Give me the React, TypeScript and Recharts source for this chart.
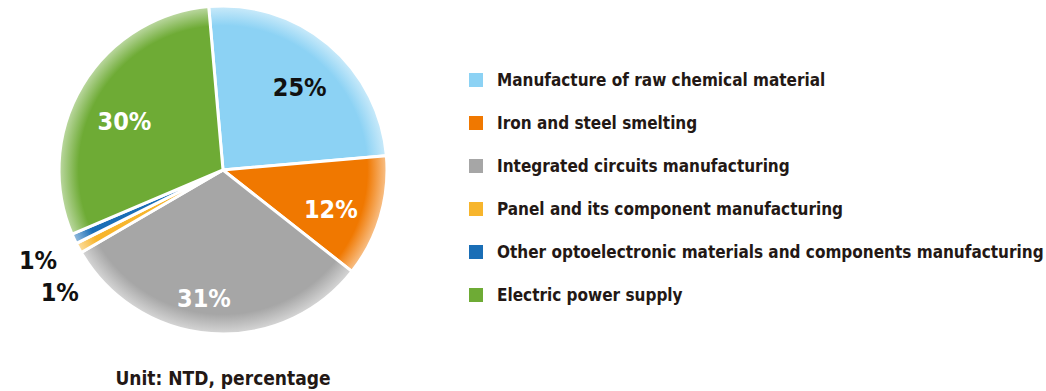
import React from 'react'
import { PieChart, Pie, Cell } from 'recharts'

const categories = [
  'Manufacture of raw chemical material',
  'Iron and steel smelting',
  'Integrated circuits manufacturing',
  'Panel and its component manufacturing',
  'Other optoelectronic materials and components manufacturing',
  'Electric power supply',
]
const shares = [25, 12, 31, 1, 1, 30]
const shareLabels = ['25%', '12%', '31%', '1%', '1%', '30%']

const COLORS = ['#8cd2f4', '#f07800', '#a6a6a6', '#f7b52c', '#1a6eb6', '#6eab35']
const LABEL_FILL = ['#111', '#fff', '#fff', '#111', '#111', '#fff']
// hand tweaks so labels sit where the original put them
const LABEL_NUDGE: [number, number][] = [[5, 3], [1, 8], [-10, -1], [18, 25], [2, 4], [-3, 9]]

const data = categories.map((name, i) => ({ name, value: shares[i] }))

const FONT = '"DejaVu Sans", sans-serif'
const RAD = Math.PI / 180
const CX = 223
const CY = 170
const R = 164

function renderLabel(props: any) {
  const { cx, cy, midAngle, outerRadius, index } = props
  const small = shares[index] < 5
  const r = small ? outerRadius + 42 : outerRadius * (index === 2 ? 0.79 : 0.68)
  const x = cx + r * Math.cos(-midAngle * RAD) + LABEL_NUDGE[index][0]
  const y = cy + r * Math.sin(-midAngle * RAD) + LABEL_NUDGE[index][1]
  return (
    <text x={x} y={y} fill={LABEL_FILL[index]} textAnchor='middle' dominantBaseline='central'
      style={{ fontFamily: FONT, fontStretch: 'condensed', fontWeight: 700, fontSize: 25 }}>
      {shareLabels[index]}
    </text>
  )
}

export default function App() {
  return (
    <div style={{ position: 'absolute', left: 0, top: 0, width: 1046, height: 391, background: '#fff' }}>
      <PieChart width={1046} height={391} margin={{ top: 0, right: 0, bottom: 0, left: 0 }}>
        <defs>
          {COLORS.map((c, i) => (
            <radialGradient key={i} id={`g${i}`} gradientUnits='userSpaceOnUse' cx={CX} cy={CY} r={R}>
              <stop offset='0%' stopColor={c} />
              <stop offset='88%' stopColor={c} />
              <stop offset='100%' stopColor={c} stopOpacity={0.45} />
            </radialGradient>
          ))}
        </defs>
        <Pie data={data} dataKey='value' nameKey='name' cx={CX} cy={CY} outerRadius={R}
          startAngle={95} endAngle={-265} stroke='#fff' strokeWidth={3}
          label={renderLabel} labelLine={false} isAnimationActive={false}>
          {data.map((_, i) => (<Cell key={i} fill={`url(#g${i})`} />))}
        </Pie>
        <text x={CX} y={378} textAnchor='middle' dominantBaseline='central' fill='#231815'
          style={{ fontFamily: FONT, fontStretch: 'condensed', fontWeight: 700, fontSize: 19 }}>
          Unit: NTD, percentage
        </text>
      </PieChart>
      <ul style={{ position: 'absolute', left: 469, top: 58, width: 577, listStyle: 'none', margin: 0, padding: 0 }}>
        {categories.map((name, i) => (
          <li key={i} style={{ display: 'flex', alignItems: 'center', height: 43, whiteSpace: 'nowrap' }}>
            <span style={{ display: 'inline-block', width: 14, height: 14, background: COLORS[i], marginRight: 14 }} />
            <span style={{ fontFamily: FONT, fontStretch: 'condensed', fontWeight: 700, fontSize: 17, color: '#231815' }}>{name}</span>
          </li>
        ))}
      </ul>
    </div>
  )
}
